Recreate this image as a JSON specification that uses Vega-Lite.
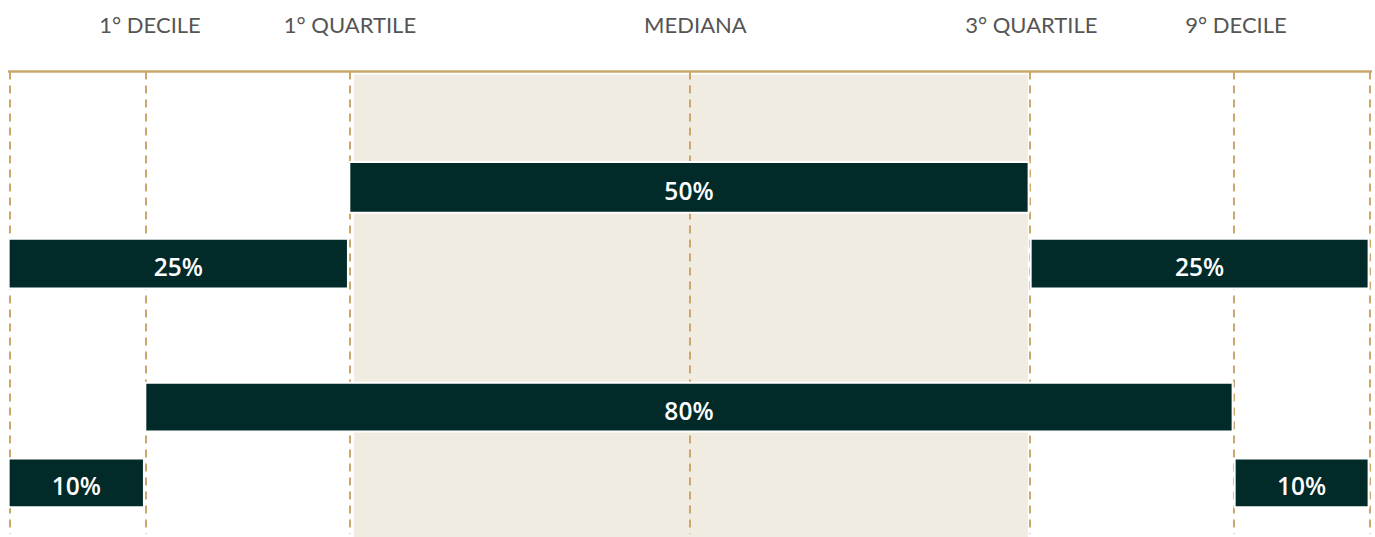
{
  "$schema": "https://vega.github.io/schema/vega-lite/v6.json",
  "width": 1375,
  "height": 537,
  "autosize": {"type": "fit", "contains": "padding"},
  "padding": 0,
  "background": "white",
  "config": {"view": {"stroke": null}},
  "datasets": {
    "band": [{"start": 25.3, "end": 74.85, "top": 75, "bottom": 540}],
    "lines": [
      {"p": 0}, {"p": 10}, {"p": 25}, {"p": 50}, {"p": 75}, {"p": 90}, {"p": 100}
    ],
    "topline": [{"start": -0.15, "end": 100.15, "y": 72}],
    "bars": [
      {"label": "50%", "start": 24.95, "end": 74.9, "top": 163, "bottom": 214},
      {"label": "25%", "start": -0.1, "end": 24.85, "top": 240, "bottom": 290},
      {"label": "25%", "start": 75.05, "end": 99.9, "top": 240, "bottom": 290},
      {"label": "80%", "start": 9.95, "end": 89.9, "top": 385, "bottom": 434},
      {"label": "10%", "start": -0.1, "end": 9.85, "top": 461, "bottom": 510},
      {"label": "10%", "start": 90.05, "end": 99.9, "top": 461, "bottom": 510}
    ],
    "headers": [
      {"text": "1° DECILE", "p": 10.3},
      {"text": "1° QUARTILE", "p": 25},
      {"text": "MEDIANA", "p": 50.4},
      {"text": "3° QUARTILE", "p": 75.1},
      {"text": "9° DECILE", "p": 90.15}
    ]
  },
  "layer": [
    {
      "data": {"name": "band"},
      "mark": {"type": "rect", "color": "#F1ECE2"},
      "encoding": {
        "x": {"field": "start", "type": "quantitative", "scale": {"domain": [-0.735, 100.37], "nice": false, "zero": false}, "axis": null},
        "x2": {"field": "end"},
        "y": {"field": "top", "type": "quantitative", "scale": {"domain": [0, 537], "nice": false, "reverse": true}, "axis": null},
        "y2": {"field": "bottom"}
      }
    },
    {
      "data": {"name": "lines"},
      "mark": {"type": "rule", "color": "#C9A86C", "strokeWidth": 2, "strokeDash": [8, 6]},
      "encoding": {
        "x": {"field": "p", "type": "quantitative"},
        "y": {"datum": 72, "type": "quantitative"},
        "y2": {"datum": 537}
      }
    },
    {
      "data": {"name": "topline"},
      "mark": {"type": "rule", "color": "#C9A86C", "strokeWidth": 2.5},
      "encoding": {
        "x": {"field": "start", "type": "quantitative"},
        "x2": {"field": "end"},
        "y": {"field": "y", "type": "quantitative"}
      }
    },
    {
      "data": {"name": "bars"},
      "mark": {"type": "rect", "color": "#022A29", "stroke": "white", "strokeWidth": 2},
      "encoding": {
        "x": {"field": "start", "type": "quantitative"},
        "x2": {"field": "end"},
        "y": {"field": "top", "type": "quantitative"},
        "y2": {"field": "bottom"}
      }
    },
    {
      "data": {"name": "bars"},
      "transform": [
        {"calculate": "(datum.start + datum.end) / 2", "as": "mid"},
        {"calculate": "(datum.top + datum.bottom) / 2", "as": "midy"}
      ],
      "mark": {"type": "text", "color": "white", "font": "Open Sans", "fontSize": 24.5, "fontWeight": 600, "align": "center", "baseline": "alphabetic", "dy": 12.5},
      "encoding": {
        "x": {"field": "mid", "type": "quantitative"},
        "y": {"field": "midy", "type": "quantitative"},
        "text": {"field": "label"}
      }
    },
    {
      "data": {"name": "headers"},
      "mark": {"type": "text", "color": "#555555", "font": "Lato", "fontSize": 22, "align": "center", "baseline": "alphabetic"},
      "encoding": {
        "x": {"field": "p", "type": "quantitative"},
        "y": {"datum": 32.7, "type": "quantitative"},
        "text": {"field": "text"}
      }
    }
  ]
}
